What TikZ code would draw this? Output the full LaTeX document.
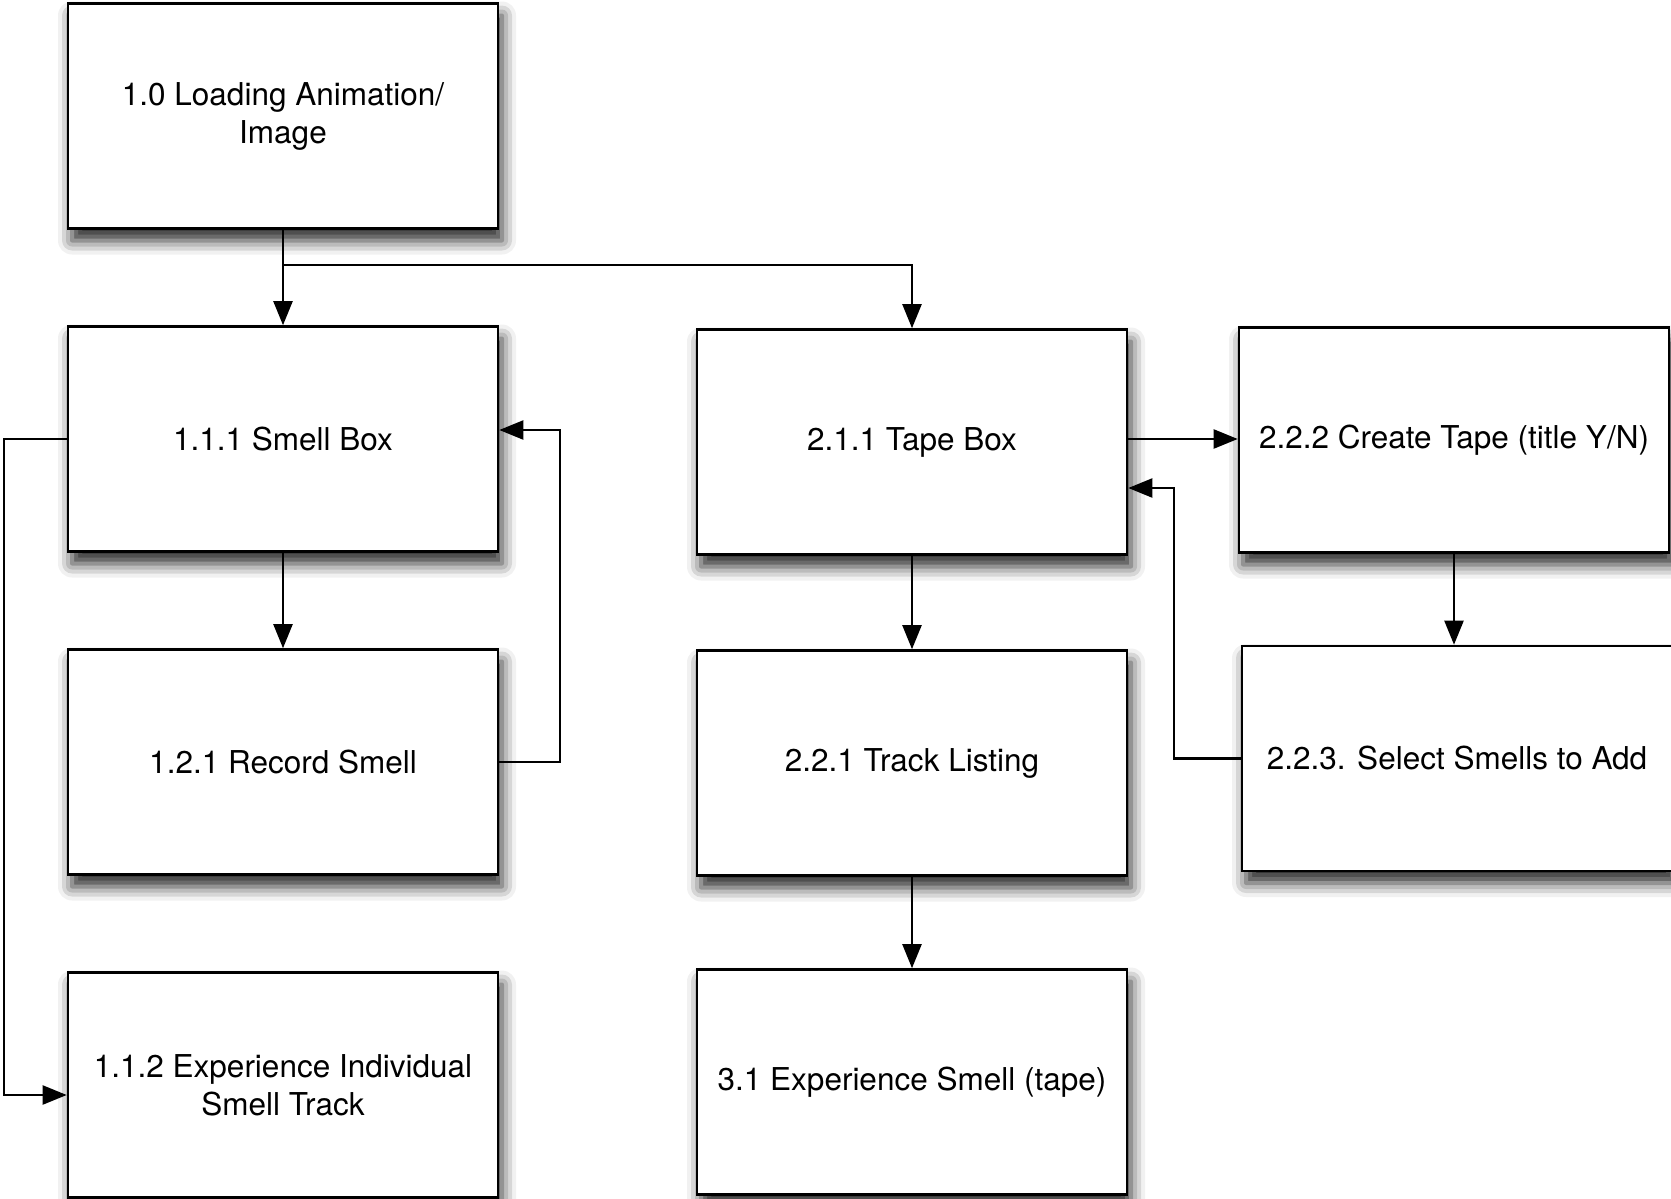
\documentclass[tikz,border=0pt]{standalone}
\usepackage{fontspec}
\setmainfont{TeX Gyre Heros}
\usetikzlibrary{arrows.meta,shadows.blur,calc}
\begin{document}
\begin{tikzpicture}[x=1pt,y=-1pt,
  box/.style={draw=black, line width=2.6pt, fill=white, minimum width=430pt, minimum height=225pt,
    inner sep=0pt, align=center, font=\fontsize{31.5}{38}\selectfont,
    blur shadow={shadow xshift=4pt, shadow yshift=-12pt, shadow blur radius=14pt, shadow opacity=85}},
  conn/.style={line width=2.2pt, -{Triangle[length=24pt,width=19pt]}}]
\useasboundingbox (0,0) rectangle (1671,1199);

\node[box] (n10)  at (283,116)  {1.0 Loading Animation/\\Image};
\node[box] (n111) at (283,439) {1.1.1 Smell Box};
\node[box] (n121) at (283,762)  {1.2.1 Record Smell};
\node[box] (n112) at (283,1085) {1.1.2 Experience Individual\\Smell Track};
\node[box] (n211) at (912,442)  {2.1.1 Tape Box};
\node[box] (n221) at (912,763)  {2.2.1 Track Listing};
\node[box] (n31)  at (912,1082) {3.1 Experience Smell (tape)};
\node[box] (n222) at (1454,440) {2.2.2 Create Tape (title Y/N)};
\node[box] (n223) at (1457,758.5) {2.2.3. Select Smells to Add};

\coordinate (br) at (283,265);
\draw[conn] (n10.south) -- (n111.north);
\draw[conn] (br) -| (n211.north);
\draw[conn] (n111.south) -- (n121.north);
\draw[conn] (n211.south) -- (n221.north);
\draw[conn] (n221.south) -- (n31.north);
\draw[conn] (n222.south) -- (n222.south |- n223.north);
\draw[conn] (n111.west) -- ++(-63,0) |- ($(n112.west)+(0,10)$);
\draw[conn] (n121.east) -- (560,762) |- ($(n111.east)+(0,-9)$);
\draw[conn] ($(n211.east)+(0,-3)$) -- ($(n211.east -| n222.west)+(0,-3)$);
\draw[conn] (n223.west) -- (1174,758.5) |- ($(n211.east)+(0,46)$);
\end{tikzpicture}
\end{document}
